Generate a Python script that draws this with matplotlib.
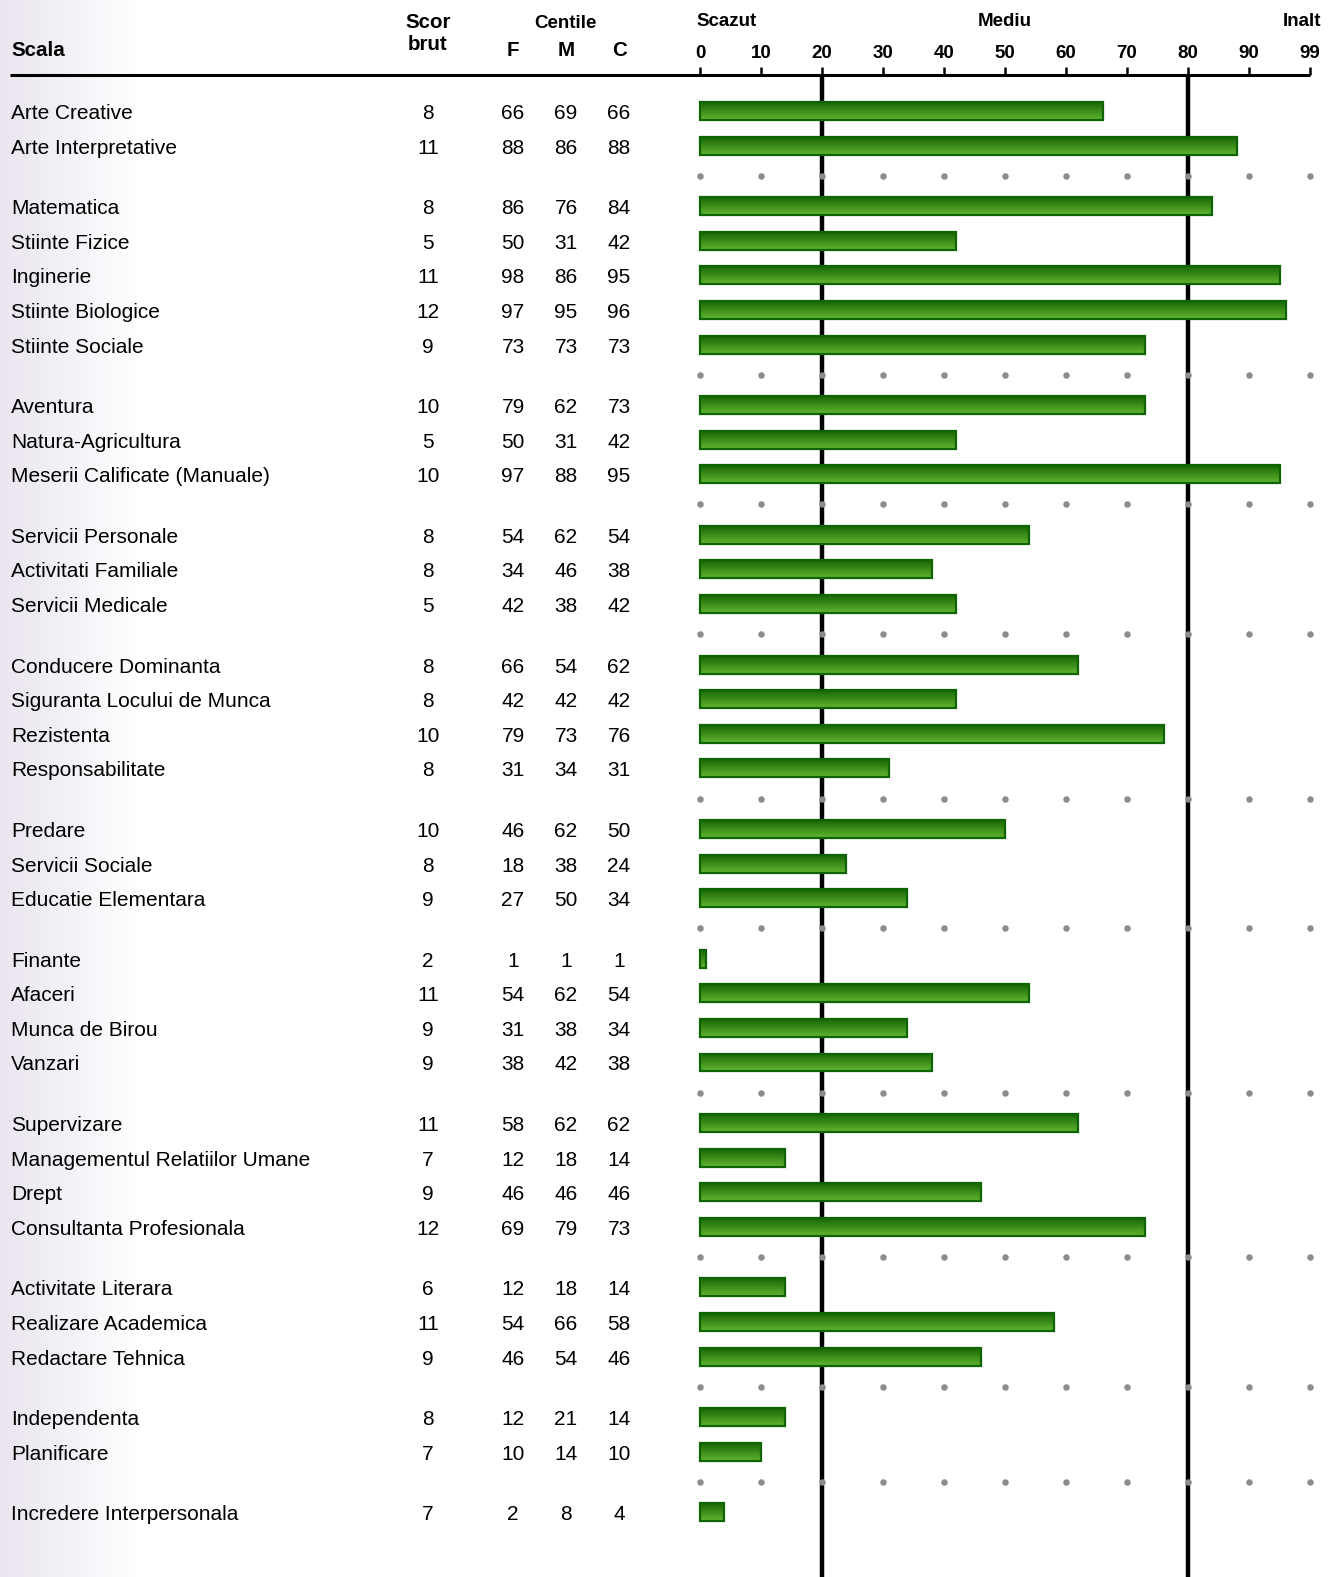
import numpy as np
import matplotlib
matplotlib.use("Agg")
from matplotlib import pyplot as plt

plt.rcParams['font.family'] = ['Liberation Sans', 'DejaVu Sans']

# groups of scales: name, raw score, F, M, C centiles
groups = [
    ["Arte Creative", "Arte Interpretative"],
    ["Matematica", "Stiinte Fizice", "Inginerie", "Stiinte Biologice", "Stiinte Sociale"],
    ["Aventura", "Natura-Agricultura", "Meserii Calificate (Manuale)"],
    ["Servicii Personale", "Activitati Familiale", "Servicii Medicale"],
    ["Conducere Dominanta", "Siguranta Locului de Munca", "Rezistenta", "Responsabilitate"],
    ["Predare", "Servicii Sociale", "Educatie Elementara"],
    ["Finante", "Afaceri", "Munca de Birou", "Vanzari"],
    ["Supervizare", "Managementul Relatiilor Umane", "Drept", "Consultanta Profesionala"],
    ["Activitate Literara", "Realizare Academica", "Redactare Tehnica"],
    ["Independenta", "Planificare"],
    ["Incredere Interpersonala"],
]
raw = [8, 11, 8, 5, 11, 12, 9, 10, 5, 10, 8, 8, 5, 8, 8, 10, 8, 10, 8, 9,
       2, 11, 9, 9, 11, 7, 9, 12, 6, 11, 9, 8, 7, 7]
cent_f = [66, 88, 86, 50, 98, 97, 73, 79, 50, 97, 54, 34, 42, 66, 42, 79, 31, 46, 18, 27,
          1, 54, 31, 38, 58, 12, 46, 69, 12, 54, 46, 12, 10, 2]
cent_m = [69, 86, 76, 31, 86, 95, 73, 62, 31, 88, 62, 46, 38, 54, 42, 73, 34, 62, 38, 50,
          1, 62, 38, 42, 62, 18, 46, 79, 18, 66, 54, 21, 14, 8]
cent_c = [66, 88, 84, 42, 95, 96, 73, 73, 42, 95, 54, 38, 42, 62, 42, 76, 31, 50, 24, 34,
          1, 54, 34, 38, 62, 14, 46, 73, 14, 58, 46, 14, 10, 4]
scale_ticks = [0, 10, 20, 30, 40, 50, 60, 70, 80, 90, 100]
scale_labels = ["0", "10", "20", "30", "40", "50", "60", "70", "80", "90", "99"]

W, H = 1331, 1577
px_x = 6.1      # pixels per percentile unit
x0_px = 700     # pixel of percentile 0
row_px = 34.6
y0_px = 111
FS = 15
FSB = 13.5
base_off = 8 / row_px   # baseline sits a bit below the row centre


def X(px):
    return (px - x0_px) / px_x


# row positions (in row units), with a gap row between groups
names, ypos, sep_y = [], [], []
pos = 0.0
for gi, g in enumerate(groups):
    for n in g:
        names.append(n)
        ypos.append(pos)
        pos += 1
    if gi < len(groups) - 1:
        sep_y.append(pos - 1 + 0.87)
        pos += 0.75
ypos = np.array(ypos)


def Y(py):
    return (py - y0_px) / row_px


fig = plt.figure(figsize=(W / 100, H / 100), dpi=100)
ax = fig.add_axes([0, 0, 1, 1])
ax.set_axis_off()

# lavender fade on the left edge
grad = np.linspace(0, 1, 256)
c0 = np.array([0.918, 0.898, 0.937])
img = c0[None, :] * (1 - grad[:, None]) + np.ones(3)[None, :] * grad[:, None]
ax.imshow(img[None, :, :], extent=(X(0), X(140), Y(H), Y(0)), aspect='auto', zorder=0)

# reference lines at 20 and 80
ax.vlines([20, 80], Y(75), Y(H), color='black', linewidth=3.2, zorder=2)

# separator dots
for sy in sep_y:
    ax.scatter(scale_ticks, [sy] * len(scale_ticks), s=22, color='#8c8c8c', zorder=3,
               linewidths=0)

# bars with a vertical green gradient
bh = 0.52
gcol = np.linspace(0, 1, 64)
top = np.array([0.09, 0.40, 0.02])
bot = np.array([0.38, 0.71, 0.19])
bar_img = top[None, :] * (1 - gcol[:, None]) + bot[None, :] * gcol[:, None]
for y, c in zip(ypos, cent_c):
    ax.imshow(bar_img[:, None, :], extent=(0, c, y + bh / 2, y - bh / 2),
              aspect='auto', zorder=4)
ax.barh(ypos, cent_c, height=bh, left=0, facecolor='none', edgecolor='#0e6400',
        linewidth=1.6, zorder=5)

# header line with ticks
ax.hlines(Y(75), X(10), 100, color='black', linewidth=2.2, zorder=5)
ax.vlines(scale_ticks, Y(67), Y(75), color='black', linewidth=1.8, zorder=5)
for t, lab in zip(scale_ticks, scale_labels):
    ax.text(t, Y(53), lab, ha='center', va='center', fontsize=FSB, fontweight='bold')
ax.text(X(696), Y(21), "Scazut", ha='left', va='center', fontsize=FSB, fontweight='bold')
ax.text(X(1005), Y(21), "Mediu", ha='center', va='center', fontsize=FSB, fontweight='bold')
ax.text(X(1321), Y(21), "Inalt", ha='right', va='center', fontsize=FSB, fontweight='bold')

ax.text(X(11), Y(50), "Scala", ha='left', va='center', fontsize=14.8, fontweight='bold')
ax.text(X(428), Y(23), "Scor", ha='center', va='center', fontsize=14.8, fontweight='bold')
ax.text(X(428), Y(44), "brut", ha='center', va='center', fontsize=14.8, fontweight='bold')
ax.text(X(565), Y(24), "Centile", ha='center', va='center', fontsize=FSB, fontweight='bold')
for xp, lab in zip([513, 566, 619], ["F", "M", "C"]):
    ax.text(X(xp), Y(50), lab, ha='center', va='center', fontsize=14.8, fontweight='bold')

# table rows
for y, n, r, f, m, c in zip(ypos, names, raw, cent_f, cent_m, cent_c):
    yb = y + base_off
    ax.text(X(11), yb, n, ha='left', va='baseline', fontsize=FS)
    ax.text(X(428), yb, str(r), ha='center', va='baseline', fontsize=FS)
    ax.text(X(513), yb, str(f), ha='center', va='baseline', fontsize=FS)
    ax.text(X(566), yb, str(m), ha='center', va='baseline', fontsize=FS)
    ax.text(X(619), yb, str(c), ha='center', va='baseline', fontsize=FS)

ax.set_xlim(X(0), X(W))
ax.set_ylim(Y(H), Y(0))

fig.savefig("out.png", dpi=100)
